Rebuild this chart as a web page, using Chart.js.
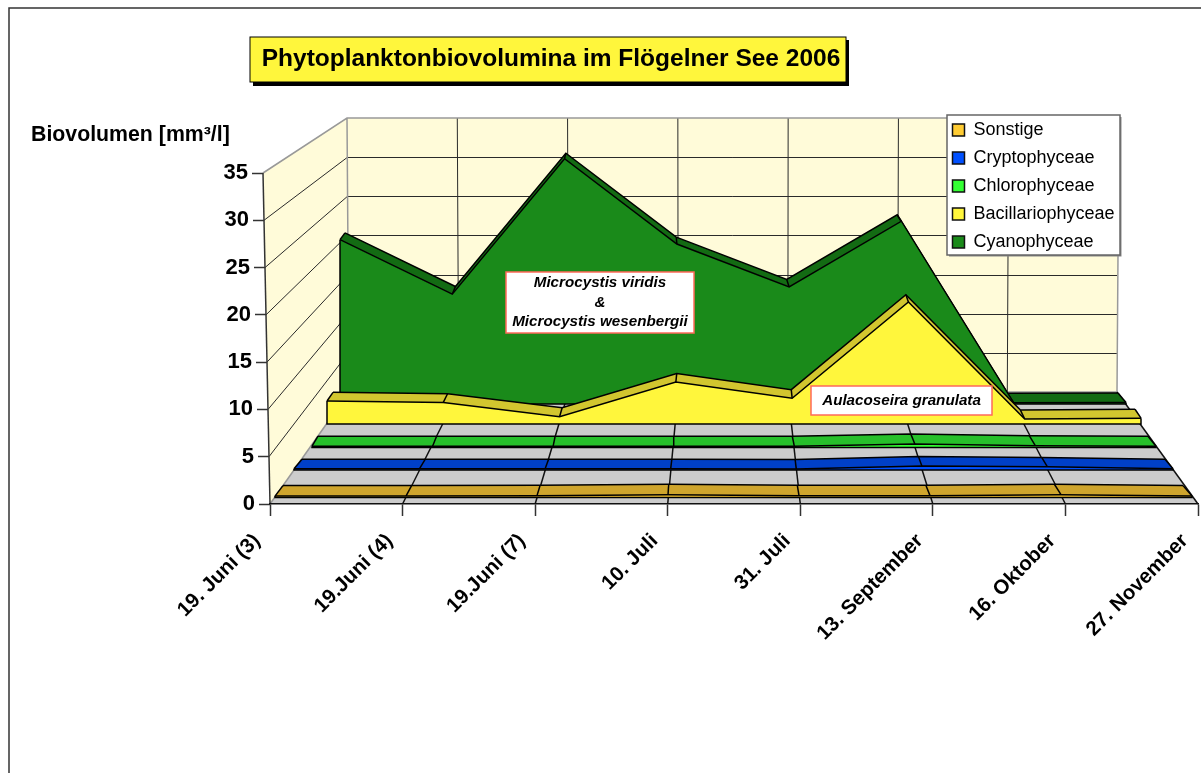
<!DOCTYPE html>
<html><head><meta charset="utf-8">
<style>html,body{margin:0;padding:0;background:#fff}canvas{display:block}</style>
<script src="https://cdn.jsdelivr.net/npm/chart.js@4"></script></head>
<body><canvas id="c" width="1201" height="773"></canvas>
<script>
const categories=['19. Juni (3)','19.Juni (4)','19.Juni (7)','10. Juli','31. Juli','13. September','16. Oktober','27. November'];
const seriesNames=['Sonstige','Cryptophyceae','Chlorophyceae','Bacillariophyceae','Cyanophyceae'];
const sonstige=[0.15,0.15,0.2,0.3,0.2,0.2,0.3,0.15];
const cryptophyceae=[0.15,0.15,0.15,0.15,0.1,0.45,0.35,0.15];
const chlorophyceae=[0.15,0.15,0.15,0.15,0.15,0.4,0.2,0.15];
const bacillariophyceae=[2.77,2.6,0.88,5.06,3.1,14.7,0.6,0.7];
const cyanophyceae=[20.5,13.7,30.6,19.95,14.6,22.8,0.15,0.2];
const seriesValues=[sonstige,cryptophyceae,chlorophyceae,bacillariophyceae,cyanophyceae];
const titleText='Phytoplanktonbiovolumina im Flögelner See 2006';
const yAxisTitle='Biovolumen [mm³/l]';
const noteCyano=['Microcystis viridis','&','Microcystis wesenbergii'];
const noteBacillario=['Aulacoseira granulata'];

const FONT='"Liberation Sans", Arial, sans-serif';
const faceColors=['#FFCC33','#0050FF','#33FF33','#FFF63C','#1A8A1A'];
const topColors=['#CFA52D','#0040C8','#27C02B','#D2C62F','#136B13'];
const planes=[
 {f:[275,1192,497.5],b:[283,1183,487]},
 {f:[294,1173,470],b:[302,1165,460.5]},
 {f:[312,1156,447.5],b:[318,1148,437.5]},
 {f:[327,1141,424],b:[333,1135,415]},
 {f:[340,1126,404],b:[345,1118,394.5]}
];
const K=0.0102;
const scales={
 x:{type:'category',position:'bottom',offset:false,border:{display:true,color:'#111',width:1.5},
    grid:{drawOnChartArea:false,color:'#333',tickColor:'#333',tickLength:12,tickWidth:1.5},
    ticks:{autoSkip:false,minRotation:45,maxRotation:45,color:'#000',padding:13,font:{family:FONT,size:20.5,weight:'bold'}}},
 y:{type:'linear',position:'left',min:0,max:35,border:{display:false},
    grid:{drawOnChartArea:false,tickColor:'#333',tickLength:11,tickWidth:1.5},
    ticks:{stepSize:5,color:'#000',padding:4,font:{family:FONT,size:22,weight:'bold'}}},
 xWall:{axis:'x',type:'category',position:'bottom',display:false,offset:false},
 yWall:{axis:'y',type:'linear',position:'left',display:false,min:0,max:35}
};
const datasets=[];
seriesValues.forEach((vals,i)=>{
 ['f','b'].forEach(p=>{
  scales['x'+i+p]={axis:'x',type:'category',position:'bottom',display:false,offset:false};
  scales['y'+i+p]={axis:'y',type:'linear',position:'left',display:false,min:0,max:35};
 });
 datasets.push({label:seriesNames[i],data:vals,xAxisID:'x'+i+'f',yAxisID:'y'+i+'f',
  fill:'origin',backgroundColor:faceColors[i],borderColor:'#000',borderWidth:1.5,pointRadius:0,tension:0,clip:false,borderJoinStyle:'miter',_s:i,_kind:'face'});
 datasets.push({label:seriesNames[i]+' (Tiefe)',data:vals,xAxisID:'x'+i+'b',yAxisID:'y'+i+'b',
  fill:false,borderColor:'#000',borderWidth:1.5,pointRadius:0,tension:0,clip:false,borderJoinStyle:'miter',_s:i,_kind:'back'});
});
function place(s,l,r,t,b){s.left=l;s.right=r;s.top=t;s.bottom=b;s.width=r-l;s.height=b-t;s.configure();}
const axisEdge=y=>263+(y-173)/331*7;
const plugin={
 id:'scene',
 afterLayout(ch){
  const S=ch.scales;
  place(S.x,270,1198,504,773);
  place(S.y,120,263,173,504);
  place(S.xWall,349,1117,392,392);
  place(S.yWall,349,349,118,392);
  planes.forEach((p,i)=>['f','b'].forEach(k=>{
    const [l,r,b]=p[k];const u=(r-l)*K;
    place(S['x'+i+k],l,r,b,b);
    place(S['y'+i+k],l,l,b-35*u,b);
  }));
  ch.chartArea={left:0,top:0,right:1201,bottom:773,width:1201,height:773};
  const Y=S.y;
  if(!Y._wrapped){
    Y._wrapped=true;
    const a=Y._computeLabelItems.bind(Y),g=Y._computeGridLineItems.bind(Y);
    Y._computeLabelItems=c=>{const it=a(c);it.forEach(t=>{t.options.translation[0]+=axisEdge(t.options.translation[1])-263;});return it;};
    Y._computeGridLineItems=c=>{const it=g(c);it.forEach(t=>{const d=axisEdge(t.ty1)-263;t.tx1+=d;t.tx2+=d;});return it;};
    const X=S.x,xa=X._computeLabelItems.bind(X);
    X._computeLabelItems=c=>{const it=xa(c);it.forEach(t=>{t.options.translation[0]-=13;});return it;};
  }
  const L=ch.legend;
  L.left=942.5;L.right=1120;L.top=111;L.bottom=262;L.width=177.5;L.height=151;L.adjustHitBoxes&&L.adjustHitBoxes();
  const T=ch.titleBlock;
  T.left=253;T.right=849;T.width=596;const lh=T.options.font.size*1.2;T.top=59.5-lh/2;T.bottom=T.top+lh;
 },
 beforeDraw(ch){
  const c=ch.ctx,S=ch.scales;c.save();
  c.fillStyle='#fff';c.fillRect(0,0,1201,773);
  c.strokeStyle='#333';c.lineWidth=1.5;c.beginPath();c.moveTo(9,773);c.lineTo(9,8);c.lineTo(1201,8);c.stroke();
  c.fillStyle='#000';c.fillRect(253,40,596,46);
  c.fillStyle='#FFF63C';c.fillRect(250,37,596,45);c.strokeStyle='#000';c.lineWidth=1;c.strokeRect(250,37,596,45);
  const yw=S.yWall,xw=S.xWall,ym=S.y,xm=S.x;
  const wallTop=k=>xw.getPixelForValue(k)-2+k/7*4;
  const top=yw.getPixelForValue(35),base=yw.getPixelForValue(0);
  c.fillStyle='#FFFBD9';c.beginPath();
  c.moveTo(263,ym.getPixelForValue(35));c.lineTo(wallTop(0),top);c.lineTo(wallTop(7),top);c.lineTo(xw.getPixelForValue(7),base);c.lineTo(xw.getPixelForValue(0),base);c.lineTo(270,ym.getPixelForValue(0));c.closePath();c.fill();
  c.fillStyle='#CCCCCC';c.beginPath();c.moveTo(xm.getPixelForValue(0),ym.getPixelForValue(0));c.lineTo(xw.getPixelForValue(0),base);c.lineTo(xw.getPixelForValue(7),base);c.lineTo(xm.getPixelForValue(7),ym.getPixelForValue(0));c.closePath();c.fill();
  c.strokeStyle='#2a2a2a';c.lineWidth=1;
  [5,10,15,20,25,30].forEach(v=>{
    const y1=ym.getPixelForValue(v),y2=Math.round(yw.getPixelForValue(v))+0.5;
    c.beginPath();c.moveTo(axisEdge(y1),y1);c.lineTo(348+(392-y2)/274*-1,y2);c.lineTo(xw.getPixelForValue(7),y2);c.stroke();
  });
  for(let k=1;k<7;k++){c.beginPath();c.moveTo(wallTop(k),top);c.lineTo(xw.getPixelForValue(k),base);c.stroke();}
  c.strokeStyle='#111';c.lineWidth=1.5;
  for(let k=1;k<7;k++){c.beginPath();c.moveTo(xm.getPixelForValue(k),ym.getPixelForValue(0));c.lineTo(xw.getPixelForValue(k),base);c.stroke();}
  c.strokeStyle='#999';c.lineWidth=1.5;
  c.beginPath();c.moveTo(263,ym.getPixelForValue(35));c.lineTo(wallTop(0),top);c.lineTo(wallTop(7),top);c.lineTo(xw.getPixelForValue(7),base);c.lineTo(xw.getPixelForValue(0),base);c.lineTo(wallTop(0),top);c.stroke();
  c.beginPath();c.moveTo(xw.getPixelForValue(0),base);c.lineTo(270,ym.getPixelForValue(0));c.stroke();
  c.strokeStyle='#333';c.beginPath();c.moveTo(263,ym.getPixelForValue(35));c.lineTo(270,ym.getPixelForValue(0));c.stroke();
  c.strokeStyle='#111';c.beginPath();c.moveTo(xw.getPixelForValue(7),base);c.lineTo(xm.getPixelForValue(7),ym.getPixelForValue(0));c.stroke();
  c.fillStyle='#888';c.fillRect(949,117,172.5,139.5);
  c.fillStyle='#fff';c.fillRect(947,115,173,140);c.strokeStyle='#666';c.lineWidth=1.5;c.strokeRect(947,115,173,140);
  c.restore();
 },
 beforeDatasetDraw(ch,args){
  const ds=ch.data.datasets[args.index];
  if(ds._kind!=='back')return;
  const c=ch.ctx,bp=ch.getDatasetMeta(args.index).data,fp=ch.getDatasetMeta(args.index-1).data;
  c.save();c.fillStyle=topColors[ds._s];c.strokeStyle='#000';c.lineWidth=1.5;c.lineJoin='miter';
  for(let i=0;i<bp.length-1;i++){
    c.beginPath();c.moveTo(bp[i].x,bp[i].y);c.lineTo(bp[i+1].x,bp[i+1].y);c.lineTo(fp[i+1].x,fp[i+1].y);c.lineTo(fp[i].x,fp[i].y);c.closePath();c.fill();
  }
  for(let i=0;i<bp.length;i++){c.beginPath();c.moveTo(bp[i].x,bp[i].y);c.lineTo(fp[i].x,fp[i].y);c.stroke();}
  c.restore();
 },
 afterDatasetDraw(ch,args){
  const ds=ch.data.datasets[args.index];
  if(ds._kind!=='face')return;
  const c=ch.ctx,p=ch.getDatasetMeta(args.index).data,base=ch.scales[ds.yAxisID].getPixelForValue(0);
  c.save();c.strokeStyle='#000';c.lineWidth=1.5;c.beginPath();
  c.moveTo(p[0].x,p[0].y);c.lineTo(p[0].x,base);c.lineTo(p[7].x,base);c.lineTo(p[7].x,p[7].y);c.stroke();c.restore();
 },
 afterDatasetsDraw(ch){
  const c=ch.ctx;c.save();
  c.fillStyle='#000';c.textAlign='left';c.textBaseline='middle';c.font='bold 21.3px '+FONT;
  c.fillText(yAxisTitle,31,135);
  const note=(x,y,w,h,lines,ys)=>{
    c.fillStyle='#fff';c.fillRect(x,y,w,h);c.strokeStyle='#FF6A5A';c.lineWidth=1.5;c.strokeRect(x,y,w,h);
    c.fillStyle='#000';c.textAlign='center';c.textBaseline='middle';c.font='italic bold 15.2px '+FONT;
    lines.forEach((t,i)=>c.fillText(t,x+w/2,ys[i]));
  };
  note(506,272,188,61,noteCyano,[283,303,322]);
  note(811,386,181,29,noteBacillario,[400.5]);
  c.restore();
 }
};
new Chart(document.getElementById('c'),{
 type:'line',
 data:{labels:categories,datasets},
 options:{responsive:false,animation:false,events:[],scales,
  layout:{padding:0},
  plugins:{
   title:{display:true,text:titleText,color:'#000',padding:0,font:{family:FONT,size:24.5,weight:'bold'}},
   legend:{display:true,position:'right',align:'start',
    labels:{boxWidth:12,boxHeight:12,padding:10,color:'#000',font:{family:FONT,size:18},
     generateLabels:()=>seriesNames.map((n,i)=>({text:n,fillStyle:faceColors[i],strokeStyle:'#111',lineWidth:1.5,fontColor:'#000',hidden:false,datasetIndex:i*2}))}},
   tooltip:{enabled:false}
  }},
 plugins:[plugin]
});
</script></body></html>
